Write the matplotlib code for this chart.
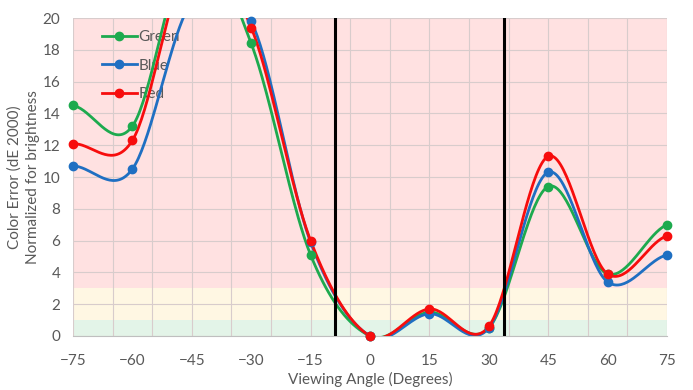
import numpy as np
import matplotlib
matplotlib.use("Agg")
import matplotlib.pyplot as plt
from matplotlib.lines import Line2D

angles = [-75, -60, -45, -30, -15, 0, 15, 30, 45, 60, 75]
green = [14.5, 13.2, 24.7, 18.4, 5.1, 0.0, 1.5, 0.5, 9.4, 3.9, 7.0]
blue = [10.7, 10.5, 21.0, 19.8, 5.9, 0.0, 1.4, 0.5, 10.3, 3.4, 5.1]
red = [12.1, 12.3, 24.1, 19.4, 6.0, 0.0, 1.7, 0.6, 11.3, 3.9, 6.3]
series_names = ["Green", "Blue", "Red"]
series_colors = ["#1DAA4E", "#1F6FC2", "#F70D0D"]
boundary_angles = [-8.8, 33.8]
bands = [(0, 1, "#E3F4E8"), (1, 3, "#FFF7E3"), (3, 20, "#FFE1E1")]
xticks = [-75, -60, -45, -30, -15, 0, 15, 30, 45, 60, 75]
yticks = list(range(0, 21, 2))

plt.rcParams['font.family'] = ['Lato', 'DejaVu Sans']


def smooth(x, y, n=40):
    x = np.asarray(x, float)
    y = np.asarray(y, float)
    yp = np.concatenate([[y[0]], y, [y[-1]]])
    xs, ys = [], []
    for i in range(len(x) - 1):
        p0, p1 = y[i], y[i + 1]
        m0 = (yp[i + 2] - yp[i]) / 2.0
        m1 = (yp[i + 3] - yp[i + 1]) / 2.0
        t = np.linspace(0, 1, n)
        h00 = 2 * t**3 - 3 * t**2 + 1
        h10 = t**3 - 2 * t**2 + t
        h01 = -2 * t**3 + 3 * t**2
        h11 = t**3 - t**2
        xs.append(x[i] + t * (x[i + 1] - x[i]))
        ys.append(h00 * p0 + h10 * m0 + h01 * p1 + h11 * m1)
    return np.concatenate(xs), np.concatenate(ys)


fig = plt.figure(figsize=(6.93, 3.9), dpi=100)
ax = fig.add_axes([0.1053, 0.1385, 0.8572, 0.8153])
ax.set_xlim(-75, 75)
ax.set_ylim(0, 20)

for lo, hi, c in bands:
    ax.axhspan(lo, hi, color=c, zorder=0, lw=0)

ax.set_xticks(xticks)
ax.set_yticks(yticks)
for gx in range(-75, 76, 10):
    ax.axvline(gx, color="#D8CCCC", lw=0.8, zorder=1)
for gy in yticks:
    ax.axhline(gy, color="#D8CCCC", lw=0.8, zorder=1)

for name, vals, col in zip(series_names, [green, blue, red], series_colors):
    sx, sy = smooth(angles, vals)
    ax.plot(sx, sy, color=col, lw=2.0, zorder=4, solid_capstyle='round')
    a = np.array(angles)
    v = np.array(vals)
    m = v <= 20
    ax.plot(a[m], v[m], 'o', color=col, ms=6, zorder=5, clip_on=False)

for bx in boundary_angles:
    ax.axvline(bx, color="black", lw=2.2, zorder=6)

handles = [Line2D([], [], color=c, lw=2.0, marker='o', ms=6) for c in series_colors]
leg = ax.legend(handles, series_names, loc='upper left', bbox_to_anchor=(0.025, 1.005),
                frameon=False, fontsize=11, handlelength=2.3, handletextpad=0.1,
                labelspacing=0.95, labelcolor="#595959")
leg.set_zorder(3)

for s in ["top", "right", "left"]:
    ax.spines[s].set_visible(False)
ax.spines["bottom"].set_color("#BFBFBF")
ax.tick_params(axis='both', length=0, labelsize=11, colors="#595959")
ax.tick_params(axis='x', pad=13)
ax.tick_params(axis='y', pad=9)
ax.set_xlabel("Viewing Angle (Degrees)", fontsize=11, color="#595959", labelpad=3)
ax.set_ylabel("Color Error (dE 2000)\nNormalized for brightness", fontsize=11,
              color="#595959", labelpad=2, linespacing=1.4)

fig.savefig("out.png", dpi=100)
